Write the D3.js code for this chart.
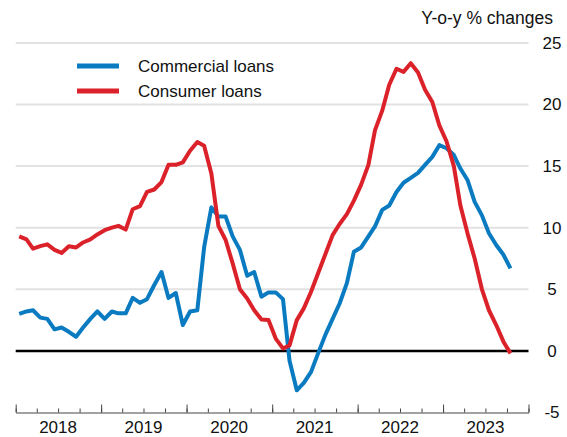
<!DOCTYPE html>
<html>
<head>
  <meta charset="utf-8">
  <script src="https://cdn.jsdelivr.net/npm/d3@7/dist/d3.min.js"></script>
  <style>
    body { margin: 0; background: #fff; }
    text { font-family: "Liberation Sans", Arial, sans-serif; fill: #111; }
  </style>
</head>
<body>
  <svg width="567" height="437" id="mainsvg"></svg>
  <script>
    // monthly y-o-y % changes, Jan 2018 .. Oct 2023
    const startYear = 2018;
    const commercial = [
      3.0, 3.2, 3.3, 2.7, 2.6, 1.75, 1.9, 1.55, 1.15, 1.9, 2.6, 3.2,
      2.6, 3.2, 3.05, 3.05, 4.3, 3.9, 4.2, 5.35, 6.4, 4.3, 4.7, 2.1,
      3.2, 3.3, 8.4, 11.65, 10.9, 10.9, 9.3, 8.2, 6.1, 6.4, 4.4, 4.75,
      4.75, 4.2, -0.8, -3.2, -2.6, -1.7, -0.2, 1.3, 2.6, 3.85, 5.5, 8.05,
      8.4, 9.3, 10.1, 11.45, 11.8, 12.9, 13.65, 14.05, 14.45, 15.1, 15.75, 16.7,
      16.45, 15.9, 14.8, 13.85, 12.1, 11.0, 9.55, 8.6, 7.8, 6.7
    ];
    const consumer = [
      9.3, 9.05, 8.3, 8.5, 8.65, 8.2, 7.95, 8.5, 8.4, 8.8, 9.05, 9.45,
      9.8, 10.0, 10.15, 9.85, 11.5, 11.75, 12.9, 13.1, 13.7, 15.1, 15.1, 15.3,
      16.25, 16.95, 16.65, 14.4, 10.15, 9.0, 7.1, 5.0, 4.25, 3.3, 2.55, 2.5,
      1.0, 0.2, 0.45, 2.5, 3.45, 4.8, 6.3, 7.85, 9.4, 10.3, 11.1, 12.2,
      13.5, 15.1, 17.9, 19.5, 21.6, 22.9, 22.65, 23.35, 22.6, 21.2, 20.2, 18.3,
      17.0, 15.0, 11.8, 9.5, 7.5, 5.0, 3.3, 2.1, 0.75, -0.2
    ];
    const years = [2018, 2019, 2020, 2021, 2022, 2023];
    const yTicks = [-5, 0, 5, 10, 15, 20, 25];
    const seriesNames = ['Commercial loans', 'Consumer loans'];
    const seriesColors = ['#0a7bc1', '#db2129'];

    const svg = d3.select('#mainsvg');
    const plot = { left: 15.7, right: 528.5, top: 42.9, bottom: 412.5 };

    const xScale = d3.scaleTime()
      .domain([new Date(2018, 0, 1), new Date(2024, 0, 1)])
      .range([plot.left, plot.right]);
    const yScale = d3.scaleLinear()
      .domain([-5, 25])
      .range([plot.bottom, plot.top]);

    const dateOf = i => new Date(startYear, i, 16);

    // gridlines
    svg.append('g')
      .selectAll('line')
      .data(yTicks.filter(d => d > 0))
      .enter()
      .append('line')
      .attr('x1', plot.left)
      .attr('x2', plot.right)
      .attr('y1', d => yScale(d))
      .attr('y2', d => yScale(d))
      .attr('stroke', '#e2e2e2')
      .attr('stroke-width', 2);

    // right-hand labels (plain hyphen for the minus, as in the source)
    const yAxis = d3.axisRight(yScale)
      .tickValues(yTicks)
      .tickFormat(d => String(d))
      .tickSize(0)
      .tickPadding(0);
    const yAxisGroup = svg.append('g')
      .attr('transform', `translate(552, 0)`)
      .call(yAxis);
    yAxisGroup.select('.domain').remove();
    yAxisGroup.selectAll('text')
      .attr('text-anchor', 'middle')
      .attr('x', 0)
      .style('font-size', '17px')
      .style('font-family', '"Liberation Sans", Arial, sans-serif')
      .attr('fill', '#111');

    // bottom axis: years + quarterly ticks
    const axisG = svg.append('g').attr('transform', `translate(0, ${plot.bottom})`);
    const minorAxis = d3.axisTop(xScale)
      .ticks(d3.timeMonth.every(3))
      .tickSize(4)
      .tickFormat('');
    axisG.append('g').call(minorAxis)
      .call(g => g.select('.domain').remove())
      .selectAll('line').attr('stroke', '#444');
    const majorAxis = d3.axisTop(xScale)
      .ticks(d3.timeYear.every(1))
      .tickSize(8)
      .tickSizeOuter(0)
      .tickFormat('');
    axisG.append('g').call(majorAxis)
      .call(g => g.select('.domain').attr('stroke', '#444'))
      .selectAll('line').attr('stroke', '#444');
    axisG.selectAll('.yearlabel')
      .data(years)
      .enter()
      .append('text')
      .attr('class', 'yearlabel')
      .attr('x', d => xScale(new Date(d, 6, 1)))
      .attr('y', 20)
      .attr('text-anchor', 'middle')
      .style('font-size', '17px')
      .text(d => d);

    // zero line
    svg.append('line')
      .attr('x1', plot.left)
      .attr('x2', plot.right)
      .attr('y1', yScale(0))
      .attr('y2', yScale(0))
      .attr('stroke', '#000')
      .attr('stroke-width', 2.5);

    // series
    const line = d3.line()
      .x((d, i) => xScale(dateOf(i)))
      .y(d => yScale(d));
    [commercial, consumer].forEach((s, k) => {
      svg.append('path')
        .datum(s)
        .attr('d', line)
        .attr('fill', 'none')
        .attr('stroke', seriesColors[k])
        .attr('stroke-width', 4)
        .attr('stroke-linejoin', 'round');
    });

    // legend
    const legend = svg.append('g');
    seriesNames.forEach((name, k) => {
      const ly = 66 + k * 25;
      legend.append('line')
        .attr('x1', 77).attr('x2', 119)
        .attr('y1', ly).attr('y2', ly)
        .attr('stroke', seriesColors[k])
        .attr('stroke-width', 5);
      legend.append('text')
        .attr('x', 138)
        .attr('y', ly + 6)
        .style('font-size', '17px')
        .text(name);
    });

    // title
    svg.append('text')
      .attr('x', 553)
      .attr('y', 24)
      .attr('text-anchor', 'end')
      .style('font-size', '17.5px')
      .text('Y-o-y % changes');
  </script>
</body>
</html>
